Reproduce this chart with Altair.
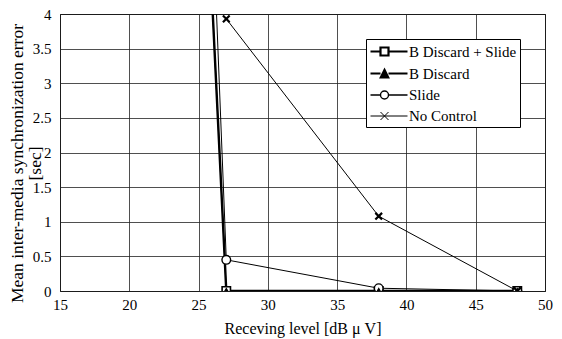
import altair as alt
import pandas as pd

# ---- data ----
series = ["B Discard + Slide", "B Discard", "Slide", "No Control"]
x_bds = [26, 27, 38, 48]
y_bds = [4.1, 0.0, 0.0, 0.0]
x_bd = [26, 27, 38, 48]
y_bd = [4.1, 0.0, 0.0, 0.0]
x_sl = [26, 27, 38, 48]
y_sl = [5.5, 0.45, 0.04, 0.0]
x_nc = [27, 38, 48]
y_nc = [3.93, 1.08, 0.0]

x_ticks = [15, 20, 25, 30, 35, 40, 45, 50]
y_ticks = [0, 0.5, 1, 1.5, 2, 2.5, 3, 3.5, 4]

FONT = "Liberation Serif"

# styles per series
line_w = {"B Discard + Slide": 2.4, "B Discard": 1.0, "Slide": 1.0, "No Control": 1.0}
X_PATH = "M-1,-1L1,1M-1,1L1,-1"
pt_shape = {"B Discard + Slide": "square", "B Discard": "triangle-up", "Slide": "circle", "No Control": X_PATH}
pt_fill = {"B Discard + Slide": "white", "B Discard": "black", "Slide": "white", "No Control": "transparent"}
pt_size = {"B Discard + Slide": 70, "B Discard": 35, "Slide": 75, "No Control": 45}
pt_sw = {"B Discard + Slide": 1.6, "B Discard": 1.2, "Slide": 1.4, "No Control": 2.2}
draw_order = {"B Discard + Slide": 0, "Slide": 1, "B Discard": 2, "No Control": 3}

rows = []
for s, xs, ys in [(series[0], x_bds, y_bds), (series[1], x_bd, y_bd),
                  (series[2], x_sl, y_sl), (series[3], x_nc, y_nc)]:
    for xv, yv in zip(xs, ys):
        rows.append({"series": s, "x": xv, "y": yv, "lw": line_w[s],
                     "shape": pt_shape[s], "fill": pt_fill[s], "size": pt_size[s],
                     "psw": pt_sw[s], "ord": draw_order[s]})
df = pd.DataFrame(rows)
df = df.sort_values(["ord", "x"]).reset_index(drop=True)

x_axis = alt.Axis(values=x_ticks, title="Receving level [dB \u03bc V]", grid=True,
                  ticks=False, domain=False, labelFont=FONT, labelFontSize=15,
                  labelColor="black", labelPadding=6, labelFlush=False, labelOverlap=False,
                  titleFont=FONT, titleFontSize=16, titleFontWeight="normal",
                  titleColor="black", titlePadding=8,
                  gridColor="#222", gridWidth=0.8)
y_axis = alt.Axis(values=y_ticks, format="~g",
                  title=["Mean inter-media synchronization error", "[sec]"],
                  grid=True, ticks=False, domain=False, labelFont=FONT,
                  labelFontSize=15, labelColor="black", labelPadding=9,
                  labelFlush=False, labelOverlap=False,
                  titleFont=FONT, titleFontSize=17.5, titleFontWeight="normal",
                  titleColor="black", titleAngle=-90, titleBaseline="top",
                  titleAlign="center", titleX=-52, titleY=149, titleLineHeight=18,
                  gridColor="#222", gridWidth=0.8)
x_scale = alt.Scale(domain=[15, 50], nice=False, zero=False)
y_scale = alt.Scale(domain=[0, 4], nice=False)

def X():
    return alt.X("x:Q", scale=x_scale, axis=x_axis)

def Y():
    return alt.Y("y:Q", scale=y_scale, axis=y_axis)

lines = alt.Chart(df).mark_line(color="black", clip=True).encode(
    x=X(), y=Y(),
    detail="series:N",
    order=alt.Order("x:Q"),
    strokeWidth=alt.StrokeWidth("lw:Q", scale=None),
)

points = alt.Chart(df).mark_point(filled=True, stroke="black", opacity=1, clip=True).encode(
    x=X(), y=Y(),
    shape=alt.Shape("shape:N", scale=None),
    fill=alt.Fill("fill:N", scale=None),
    size=alt.Size("size:Q", scale=None),
    strokeWidth=alt.StrokeWidth("psw:Q", scale=None),
)

# legend: symbols are line + marker paths (unit = sqrt(size)/2 = 8 px)
L, R = -1.0, 3.625   # line extent
c = 0.75             # marker centre
h = 0.5              # marker half size
legend_paths = [
    f"M{L},0H{c-h}M{c+h},0H{R}M{c-h},-{h}H{c+h}V{h}H{c-h}Z",
    f"M{L},0H{c-h}M{c+h},0H{R}M{c},-{h}L{c+h},{h}H{c-h}Z",
    f"M{L},0H{c-h}M{c+h},0H{R}M{c+h},0A{h},{h} 0 1,1 {c-h},0A{h},{h} 0 1,1 {c+h},0Z",
    f"M{L},0H{R}M{c-h},-{h}L{c+h},{h}M{c-h},{h}L{c+h},-{h}",
]
leg = alt.Legend(title=None, orient="none", legendX=306, legendY=25,
                 fillColor="white", strokeColor="black", padding=3,
                 labelFont=FONT, labelFontSize=15, labelColor="black",
                 labelExpr="datum.label + '\u00a0\u00a0'",
                 symbolSize=256, labelOffset=21, rowPadding=4.5)
legend_layer = alt.Chart(df).transform_filter("datum.x < 0").mark_point(
    filled=True, stroke="black", opacity=1, size=256).encode(
    x=X(), y=Y(),
    shape=alt.Shape("series:N", scale=alt.Scale(domain=series, range=legend_paths), legend=leg),
    fill=alt.Fill("series:N", scale=alt.Scale(domain=series, range=["white", "black", "white", "transparent"]), legend=leg),
    strokeWidth=alt.StrokeWidth("series:N", scale=alt.Scale(domain=series, range=[2.2, 1.0, 1.0, 1.0]), legend=leg),
)

chart = alt.layer(lines, points, legend_layer).resolve_scale(
    shape="independent", fill="independent", strokeWidth="independent", size="independent"
).properties(
    width=485, height=277,
    autosize=alt.AutoSizeParams(type="none"),
    padding={"left": 52, "top": 6, "right": 9, "bottom": 48},
    background="white",
).configure_view(stroke="black", strokeWidth=1)

chart.save("out.html", embed_options={"renderer": "svg", "actions": False})
